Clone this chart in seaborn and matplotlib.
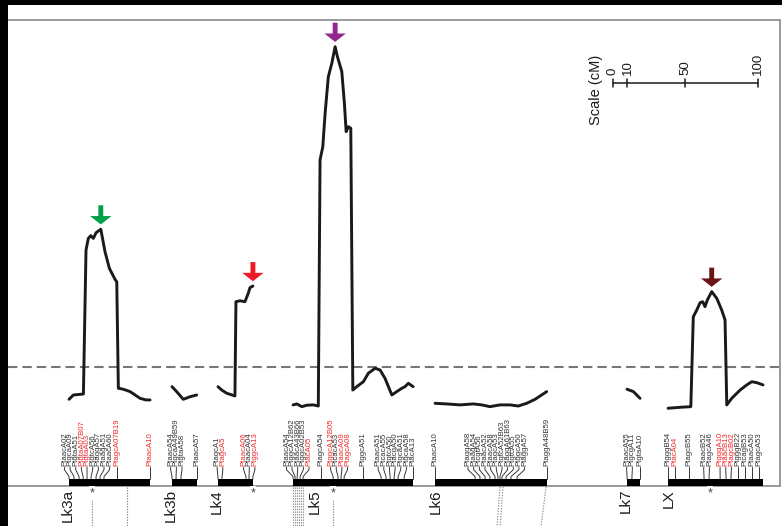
import numpy as np
import pandas as pd
import matplotlib
matplotlib.use("Agg")
import matplotlib.pyplot as plt
from matplotlib.patches import Rectangle
import seaborn as sns

# ---------------------------------------------------------------- data
groups = ["Lk3a", "Lk3b", "Lk4", "Lk5", "Lk6", "Lk7", "LX"]
group_length = [55.9, 17.2, 24.1, 82.8, 77.2, 9.0, 65.5]          # cM

# LOD profiles: map position (cM from the top of the group) and LOD score
pos_lk3a = [0.0, 3.0, 9.9, 11.7, 13.3, 15.0, 16.8, 18.6, 21.9, 24.8, 27.8,
            31.7, 32.9, 34.0, 37.4, 42.1, 49.0, 53.1, 55.9]
lod_lk3a = [0.98, 1.25, 1.31, 10.31, 11.04, 11.21, 11.04, 11.39, 11.61, 10.21,
            9.17, 8.48, 8.33, 1.67, 1.61, 1.46, 1.04, 0.94, 0.94]
pos_lk3b = [0.0, 3.2, 7.8, 12.4, 17.0]
lod_lk3b = [1.77, 1.46, 0.98, 1.14, 1.25]
pos_lk4 = [0.0, 2.6, 6.0, 11.7, 12.4, 15.2, 18.6, 20.9, 22.1, 24.1]
lod_lk4 = [1.77, 1.56, 1.36, 1.19, 7.08, 7.14, 7.08, 7.61, 7.96, 8.06]
pos_lk5 = [0.0, 2.6, 6.0, 9.4, 14.0, 17.4, 18.6, 20.5, 22.1, 24.3, 26.7, 29.0,
           30.6, 33.6, 35.4, 36.6, 38.1, 39.8, 41.2, 43.9, 48.5, 51.9, 56.6,
           60.0, 63.4, 68.1, 71.5, 75.0, 77.2, 79.5, 82.8]
lod_lk5 = [0.63, 0.69, 0.52, 0.61, 0.63, 0.56, 15.94, 16.77, 18.86, 21.14,
           21.98, 23.02, 22.39, 21.46, 19.48, 17.71, 18.02, 17.92, 1.56, 1.77,
           2.08, 2.61, 2.92, 2.81, 2.29, 1.25, 1.46, 1.67, 1.77, 1.98, 1.77]
pos_lk6 = [0.0, 8.1, 17.2, 26.4, 32.2, 37.9, 44.8, 51.7, 57.4, 63.2, 69.0, 77.0]
lod_lk6 = [0.73, 0.69, 0.63, 0.69, 0.63, 0.52, 0.63, 0.63, 0.56, 0.73, 0.98, 1.46]
pos_lk7 = [0.0, 4.4, 9.0]
lod_lk7 = [1.61, 1.46, 1.04]
pos_lx = [0.0, 8.3, 15.7, 17.4, 19.8, 22.1, 23.9, 25.5, 27.1, 30.1, 33.6, 37.0,
          39.3, 40.5, 43.9, 49.7, 54.3, 57.7, 61.2, 65.5]
lod_lx = [0.42, 0.48, 0.52, 6.14, 6.56, 7.02, 7.08, 6.77, 7.19, 7.71, 7.29,
          6.56, 5.94, 0.63, 1.04, 1.56, 1.88, 2.08, 2.02, 1.88]

lod_threshold = 3.0

# markers on each group: name, map position (cM), highlighted (1 = red)
mk_lk3a = ["PtaacA02", "PtgcaA09", "PtgtaA51", "PtgtaA07B07", "PtgtaA03",
           "PtgtcA56", "PtaggA57", "PtaagA51", "PtaacA60", "PtagcA07B19", "PtaacA10"]
mkpos_lk3a = [0.0, 3.4, 6.9, 9.7, 12.4, 15.2, 18.6, 21.4, 24.1, 33.0, 55.9]
mkred_lk3a = [0, 0, 0, 1, 1, 0, 0, 0, 0, 1, 1]

mk_lk3b = ["PtaacA54", "PtgcaA49B59", "PtgtaA58", "PtaacA57"]
mkpos_lk3b = [0.0, 2.8, 6.2, 17.2]
mkred_lk3b = [0, 0, 0, 0]

mk_lk4 = ["PtagcA1", "PtagcA5", "PtaacA06", "PtaacA04", "PtggcA13"]
mkpos_lk4 = [0.0, 2.8, 19.3, 21.4, 24.1]
mkred_lk4 = [0, 1, 1, 0, 1]

mk_lk5 = ["PtaacA54", "PtggcA12B62", "PtaacA43B66", "PtggcA02B53", "PtacA05",
          "PtagcA54", "PtggcA12B05", "PtcacA53", "PtaacA09", "PtagcA08",
          "PtggcA51", "PtaacA51", "PtcacA55", "PtgtcA50", "PtacgA50",
          "PtgcaA51", "PtgcaA58", "PtacA13"]
mkpos_lk5 = [0.0, 1.4, 2.8, 4.8, 6.9, 19.3, 27.6, 31.0, 33.1, 35.2, 48.3,
             60.7, 64.1, 66.9, 69.7, 72.4, 76.6, 82.8]
mkred_lk5 = [0, 0, 0, 0, 1, 0, 1, 0, 1, 1, 0, 0, 0, 0, 0, 0, 0, 0]

mk_lk6 = ["PtaacA10", "PtaggA58", "PtaagA54", "PtcgtA56", "PtaacA52",
          "PtaacA58", "PtagcA53", "PtgtcA52B63", "PtaggA61B63", "PtgtcA55",
          "PtggcA50", "PtaggA57", "PtaggA48B59"]
mkpos_lk6 = [0.0, 27.6, 31.0, 34.5, 37.9, 41.4, 43.4, 44.8, 46.2, 49.0, 52.4,
             56.6, 77.2]
mkred_lk6 = [0] * 13

mk_lk7 = ["PtaacA55", "PtgcgA11", "PtgtaA10"]
mkpos_lk7 = [0.0, 3.4, 9.0]
mkred_lk7 = [0, 0, 0]

mk_lx = ["PtgggB54", "PtacA04", "PtagcB55", "PtaacB52", "PtagcA46",
         "PtgggA10", "PtaacB13", "PtagcB02", "PtgggB22", "PtcagB53",
         "PtaacA50", "PtagcA53"]
mkpos_lx = [0.0, 4.8, 14.5, 24.8, 28.3, 35.9, 40.0, 43.4, 48.3, 53.1, 57.9, 62.8]
mkred_lx = [0, 1, 0, 0, 0, 1, 1, 1, 0, 0, 0, 0]

# QTL peaks marked with an arrow
qtl_groups = ["Lk3a", "Lk4", "Lk5", "LX"]
qtl_colors = ["#00a04b", "#ed1c24", "#92278f", "#6b1515"]

# asterisks under the map and dotted links to the next map
star_group = ["Lk3a", "Lk4", "Lk5", "LX"]
star_pos = [15.9, 24.1, 27.6, 28.9]
link_group = ["Lk3a", "Lk3a", "Lk5", "Lk5", "Lk5", "Lk5", "Lk5", "Lk5", "Lk5",
              "Lk6", "Lk6", "Lk6"]
link_pos = [15.9, 40.0, 0.0, 1.4, 2.8, 4.1, 5.5, 6.9, 27.6, 44.8, 46.9, 76.6]
link_drift = [0, 0, 0, 0, 0, 0, 0, 0, 0, -2.0, -2.0, -3.5]

scale_ticks = [0, 10, 50, 100]

# ---------------------------------------------------------------- layout
group_offset = [42.1, 113.1, 144.8, 196.6, 294.5, 426.9, 455.2]
name_shift = [-0.7, -0.7, -1.0, 15.2, 0.7, -0.7, 0.7]
profiles = {"Lk3a": (pos_lk3a, lod_lk3a), "Lk3b": (pos_lk3b, lod_lk3b),
            "Lk4": (pos_lk4, lod_lk4), "Lk5": (pos_lk5, lod_lk5),
            "Lk6": (pos_lk6, lod_lk6), "Lk7": (pos_lk7, lod_lk7),
            "LX": (pos_lx, lod_lx)}
markers = {"Lk3a": (mk_lk3a, mkpos_lk3a, mkred_lk3a),
           "Lk3b": (mk_lk3b, mkpos_lk3b, mkred_lk3b),
           "Lk4": (mk_lk4, mkpos_lk4, mkred_lk4),
           "Lk5": (mk_lk5, mkpos_lk5, mkred_lk5),
           "Lk6": (mk_lk6, mkpos_lk6, mkred_lk6),
           "Lk7": (mk_lk7, mkpos_lk7, mkred_lk7),
           "LX": (mk_lx, mkpos_lx, mkred_lx)}
offset = dict(zip(groups, group_offset))

X_MAX = 532.4
Y_MIN, Y_MAX = -6.94, 24.69
BAR_TOP, BAR_BOTTOM = -4.0, -4.44
LABEL_BASE = -3.22
LABEL_GAP = 3.9          # minimum spacing of marker labels (cM)
RED = "#ee2a2a"
INK = "#1a1a1a"
FRAME = "#9a9a9a"

sns.set_style("white")
plt.rcParams["font.family"] = ["Liberation Sans", "DejaVu Sans"]

W, H = 782, 526
fig = plt.figure(figsize=(W / 100, H / 100), dpi=100)
ax = fig.add_axes([8 / W, 0, 772 / W, 506 / H])
ax.set_xlim(0, X_MAX)
ax.set_ylim(Y_MIN, Y_MAX)
ax.set_xticks([])
ax.set_yticks([])
for side in ("left", "bottom"):
    ax.spines[side].set_visible(False)
for side in ("top", "right"):
    ax.spines[side].set_color(FRAME)
    ax.spines[side].set_linewidth(1.4)
ax.spines["right"].set_bounds(BAR_BOTTOM, Y_MAX)

# black page edges
fig.add_artist(Rectangle((0, 0), 8 / W, 1, transform=fig.transFigure,
                         fc="black", ec="none", zorder=10))
fig.add_artist(Rectangle((0, 1 - 5 / H), 1, 5 / H, transform=fig.transFigure,
                         fc="black", ec="none", zorder=10))

# LOD profiles
frames = []
for g in groups:
    p, l = profiles[g]
    frames.append(pd.DataFrame({"group": g, "pos": np.asarray(p) + offset[g],
                                "lod": l}))
df = pd.concat(frames, ignore_index=True)
sns.lineplot(data=df, x="pos", y="lod", units="group", estimator=None,
             sort=False, color=INK, lw=2.1, ax=ax, legend=False)
ax.set_xlabel("")
ax.set_ylabel("")

# significance threshold
ax.axhline(lod_threshold, color="#777777", lw=1.5, ls=(0, (4.5, 2.4)), zorder=1)

# arrows above QTL peaks
for g, c in zip(qtl_groups, qtl_colors):
    p, l = profiles[g]
    i = int(np.argmax(l))
    x, y = p[i] + offset[g], l[i]
    ax.annotate("", xy=(x, y + 0.3), xytext=(x, y + 1.5),
                arrowprops=dict(arrowstyle="simple,head_length=0.55,head_width=1.4,tail_width=0.32",
                                fc=c, ec="none", mutation_scale=11,
                                shrinkA=0, shrinkB=0))

# map strip baseline
ax.axhline(BAR_BOTTOM, color=FRAME, lw=1.4, zorder=1)


def spread(targets, gap):
    clusters = [[t] for t in targets]
    changed = True
    while changed:
        changed = False
        starts = [np.mean(c) - (len(c) - 1) * gap / 2 for c in clusters]
        for i in range(len(clusters) - 1):
            end_i = starts[i] + (len(clusters[i]) - 1) * gap
            if starts[i + 1] - end_i < gap - 1e-9:
                clusters[i] = clusters[i] + clusters[i + 1]
                del clusters[i + 1]
                changed = True
                break
    out = []
    for c in clusters:
        s = np.mean(c) - (len(c) - 1) * gap / 2
        out += [s + k * gap for k in range(len(c))]
    return out


for g, length in zip(groups, group_length):
    off = offset[g]
    ax.add_patch(Rectangle((off, BAR_BOTTOM), length, BAR_TOP - BAR_BOTTOM,
                           fc="black", ec="none", zorder=3))
    names, mpos, red = markers[g]
    mx = [off + m for m in mpos]
    lx = spread(mx, LABEL_GAP)
    for name, m, lab, r in zip(names, mx, lx, red):
        ax.plot([lab, lab, m, m], [LABEL_BASE - 0.05, LABEL_BASE - 0.2, BAR_TOP + 0.15, BAR_TOP],
                color="#2a2a2a", lw=0.65, solid_joinstyle="miter")
        ax.text(lab, LABEL_BASE, name, rotation=90, ha="center", va="bottom",
                fontsize=5.6, color=RED if r else "#333333")

# dotted links below the strip
for g, p, d in zip(link_group, link_pos, link_drift):
    x0 = offset[g] + p
    ax.plot([x0, x0 + d], [BAR_BOTTOM - 0.05, Y_MIN], color="#8a8a8a", lw=0.8,
            ls=(0, (1.2, 1.2)), clip_on=False, zorder=1)

for g, p in zip(star_group, star_pos):
    ax.text(offset[g] + p, -4.9, "*", ha="center", va="center", fontsize=9,
            color="#444444", zorder=4,
            bbox=dict(fc="white", ec="none", pad=0.6))

# group names
for g, s in zip(groups, name_shift):
    ax.text(offset[g] + s, -4.62, g, rotation=90, ha="center", va="top",
            fontsize=11, color=INK)

# scale bar
sx0, sy = 417.2, 20.75
ax.plot([sx0, sx0 + scale_ticks[-1]], [sy, sy], color=INK, lw=1.1)
for t in scale_ticks:
    ax.plot([sx0 + t, sx0 + t], [sy - 0.25, sy + 0.25], color=INK, lw=1.1)
    ax.text(sx0 + t, sy + 0.5, str(t), rotation=90, ha="center", va="bottom",
            fontsize=9.5, color=INK)
ax.text(405.5, 20.3, "Scale (cM)", rotation=90, ha="center", va="center",
        fontsize=10.5, color=INK)

fig.savefig("out.png", dpi=100)
